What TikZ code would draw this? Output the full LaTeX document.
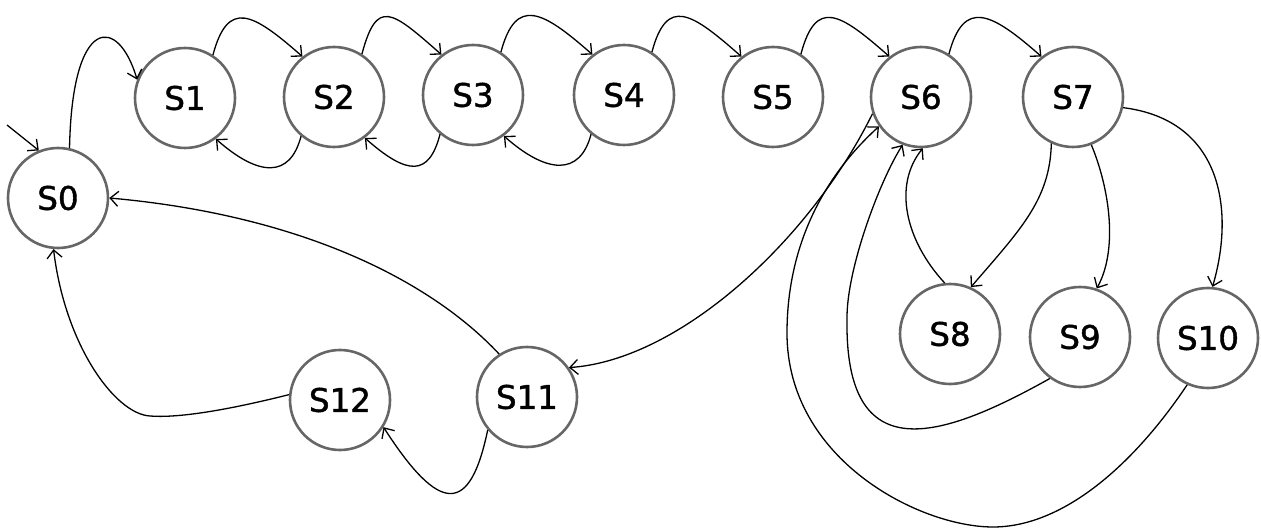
\documentclass[tikz,border=0pt]{standalone}
\usepackage{fontspec}
\setmainfont{DejaVu Sans}
\newfontfamily\statefont{DejaVu Sans}[FakeBold=1.3]
\usetikzlibrary{arrows.meta}
\definecolor{stategray}{HTML}{666666}
\begin{document}
\begin{tikzpicture}[x=1pt,y=-1pt,
  state/.style={circle, draw=stategray, line width=2.6pt, minimum size=100pt,
    inner sep=0pt, font=\statefont\fontsize{32.5}{38}\selectfont},
  edge/.style={line width=1.3pt,
    -{Straight Barb[length=8pt,width=15pt,line width=1.3pt]}},
  hop/.style={edge},
]
\useasboundingbox (0,0) rectangle (1261,529);

% states
\node[state] (S0)  at (58,198)   {S0};
\node[state] (S1)  at (185,98)   {S1};
\node[state] (S2)  at (334,97)   {S2};
\node[state] (S3)  at (473,95)   {S3};
\node[state] (S4)  at (624,95)   {S4};
\node[state] (S5)  at (773,97)   {S5};
\node[state] (S6)  at (921,97)   {S6};
\node[state] (S7)  at (1073,97)  {S7};
\node[state] (S8)  at (950,334)  {S8};
\node[state] (S9)  at (1080,337) {S9};
\node[state] (S10) at (1208,338) {S10};
\node[state] (S11) at (527,397)  {S11};
\node[state] (S12) at (340,400)  {S12};

% initial arrow
\coordinate (init) at (7,125);
\draw[edge] (init) -- (S0.112);

% S0 -> S1
\draw[edge] (S0.77) .. controls (72,15) and (118,15) .. (S1.159);

% forward hops along the top row
\foreach \a/\b in {S1/S2, S2/S3, S3/S4, S4/S5, S5/S6, S6/S7}
  \draw[hop] (\a.57) .. controls +(15,-56) and +(-50,-44) .. (\b.128);

% backward hops under the top row
\foreach \a/\b in {S2/S1, S3/S2, S4/S3}
  \draw[hop] (\a.230) .. controls +(-11,42) and +(43,38) .. (\b.307);

% branches out of S7
\draw[edge] (S7.-12) .. controls (1222,120) and (1235,210) .. (S10.85);
\draw[edge] (S7.-69) .. controls (1110,190) and (1118,250) .. (S9.71);
\draw[edge] (S7.-115) .. controls (1050,200) and (1020,230) .. (S8.66);

% returns into S6
\draw[edge] (S8.96) .. controls (905,240) and (893,185) .. (S6.-88);
\coordinate (n9) at (847,320);
\draw[edge] (S9.234) .. controls (940,440) and (845,470) .. (n9)
  .. controls (846,270) and (880,180) .. (S6.249);
\coordinate (b10) at (993,527);
\coordinate (l10) at (787,333);
\draw[edge] (S10.246) .. controls (1130,470) and (1060,527) .. (b10)
  .. controls (920,527) and (787,460) .. (l10)
  .. controls (787,250) and (820,180) .. (S6.215);

% lower-left part
\draw[edge] (S6.199) .. controls (810,240) and (680,360) .. (S11.35);
\draw[edge] (S11.123) .. controls (430,280) and (300,215) .. (S0.0);
\draw[edge] (S11.220) .. controls (470,515) and (440,515) .. (S12.-32);
\coordinate (k12) at (150,416);
\draw[edge] (S12.174) .. controls (220,412) and (175,418) .. (k12)
  .. controls (115,414) and (65,345) .. (S0.265);
\end{tikzpicture}
\end{document}
